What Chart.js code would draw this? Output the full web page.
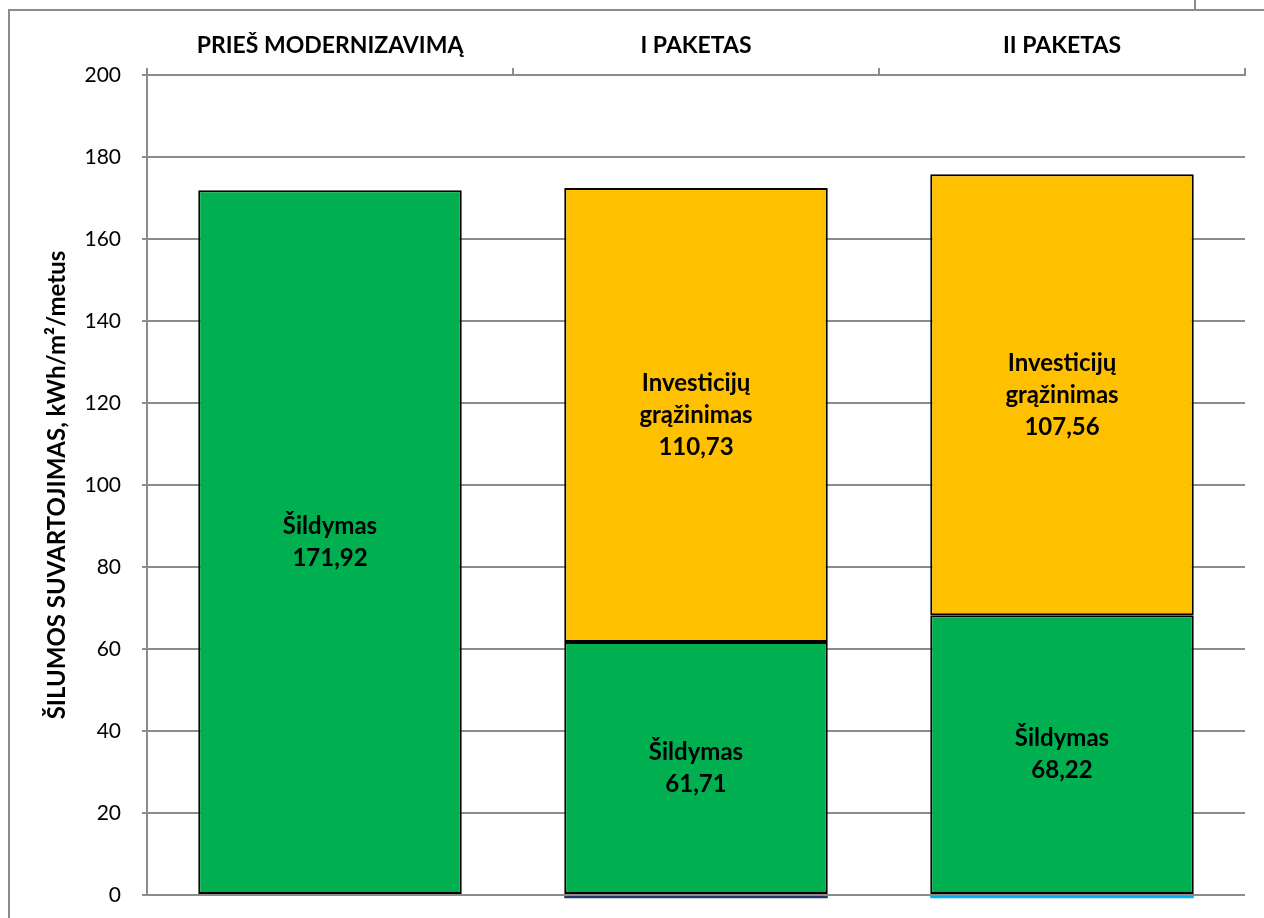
<!DOCTYPE html>
<html>
<head>
    <meta charset="UTF-8">
    <title>Šilumos suvartojimas</title>
    <script src="https://cdn.jsdelivr.net/npm/chart.js@4"></script>
    <style>
        body { margin: 0; background: #fff; }
        canvas { display: block; }
    </style>
</head>
<body>
    <canvas id="chart" width="1264" height="918"></canvas>
    <script>
        // duomenys
        const categories = ['PRIEŠ MODERNIZAVIMĄ', 'I PAKETAS', 'II PAKETAS'];
        const sildymas = [171.92, 61.71, 68.22];
        const investicijos = [0, 110.73, 107.56];
        const kita = [0, -0.8, -0.8];
        const yTicks = [0, 20, 40, 60, 80, 100, 120, 140, 160, 180, 200];

        const gray = '#8c8c8c';
        Chart.defaults.font.family = 'Lato, "Open Sans", sans-serif';
        Chart.defaults.color = '#000';

        const fmt = v => v.toFixed(2).replace('.', ',');

        // rėmelis aplink diagramą
        const framePlugin = {
            id: 'frame',
            beforeDraw(chart) {
                const ctx = chart.ctx;
                ctx.save();
                ctx.fillStyle = '#fff';
                ctx.fillRect(0, 0, chart.width, chart.height);
                ctx.strokeStyle = gray;
                ctx.lineWidth = 2;
                ctx.beginPath();
                ctx.moveTo(9, chart.height);
                ctx.lineTo(9, 10);
                ctx.lineTo(chart.width, 10);
                ctx.moveTo(1195, 0);
                ctx.lineTo(1195, 10);
                ctx.stroke();
                ctx.restore();
            }
        };

        // užrašai stulpeliuose
        const labelPlugin = {
            id: 'segLabels',
            afterDatasetsDraw(chart) {
                const ctx = chart.ctx;
                ctx.save();
                ctx.font = 'bold 24px Lato, "Open Sans", sans-serif';
                ctx.fillStyle = '#000';
                ctx.textAlign = 'center';
                ctx.textBaseline = 'middle';
                chart.data.datasets.forEach((ds, i) => {
                    if (!ds.nameLines) return;
                    chart.getDatasetMeta(i).data.forEach((bar, j) => {
                        const v = ds.data[j];
                        if (!v || v <= 0) return;
                        const { x, y, base } = bar.getProps(['x', 'y', 'base'], true);
                        const lines = ds.nameLines.concat([fmt(v)]);
                        const lh = 32;
                        const cy = (y + base) / 2 - (lines.length - 1) * lh / 2;
                        lines.forEach((t, k) => ctx.fillText(t, x, cy + k * lh));
                    });
                });
                ctx.restore();
            }
        };

        new Chart(document.getElementById('chart'), {
            type: 'bar',
            data: {
                labels: categories,
                datasets: [
                    {
                        label: 'Kita',
                        data: kita,
                        backgroundColor: ['#00B0F0', '#1F3864', '#00B0F0'],
                        borderWidth: 0,
                        clip: false,
                        order: 3
                    },
                    {
                        label: 'Šildymas',
                        nameLines: ['Šildymas'],
                        data: sildymas,
                        backgroundColor: '#00B050',
                        borderColor: '#000',
                        borderWidth: 2,
                        borderSkipped: false
                    },
                    {
                        label: 'Investicijų grąžinimas',
                        nameLines: ['Investicijų', 'grąžinimas'],
                        data: investicijos,
                        backgroundColor: '#FFC000',
                        borderColor: '#000',
                        borderWidth: 2,
                        borderSkipped: false
                    }
                ]
            },
            options: {
                responsive: false,
                animation: false,
                layout: { padding: { left: 10, top: 10, right: 19, bottom: 23 } },
                datasets: { bar: { categoryPercentage: 1, barPercentage: 0.72 } },
                plugins: {
                    legend: { display: false },
                    tooltip: { enabled: false }
                },
                scales: {
                    x: {
                        position: 'top',
                        stacked: true,
                        afterFit(scale) { scale.height = 65; },
                        grid: {
                            offset: true,
                            drawOnChartArea: false,
                            tickLength: 7,
                            color: gray,
                            lineWidth: 2
                        },
                        border: { color: gray, width: 2 },
                        ticks: {
                            padding: 9,
                            font: { size: 23, weight: 'bold' }
                        }
                    },
                    y: {
                        stacked: true,
                        min: 0,
                        max: 200,
                        afterFit(scale) {
                            scale.width = 137;
                            scale.paddingTop = 0;
                            scale.paddingBottom = 0;
                        },
                        afterBuildTicks(scale) {
                            scale.ticks = yTicks.map(v => ({ value: v }));
                        },
                        grid: { color: gray, lineWidth: 2, tickLength: 5 },
                        border: { color: gray, width: 2 },
                        ticks: {
                            padding: 21,
                            font: { size: 21 }
                        },
                        title: {
                            display: true,
                            text: 'ŠILUMOS SUVARTOJIMAS, kWh/m²/metus',
                            font: { size: 24, weight: 'bold' },
                            padding: { top: 33, bottom: 0 }
                        }
                    }
                }
            },
            plugins: [framePlugin, labelPlugin]
        });
    </script>
</body>
</html>
